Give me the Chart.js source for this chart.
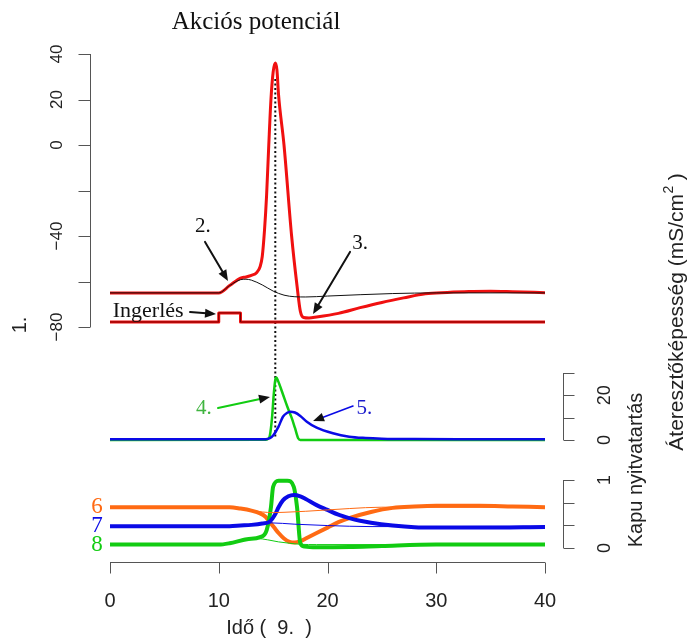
<!DOCTYPE html>
<html><head><meta charset="utf-8">
<script src="https://cdn.jsdelivr.net/npm/chart.js@4"></script>
<style>html,body{margin:0;padding:0;background:#fff;}canvas{display:block}</style>
</head><body>
<canvas id="c" width="691" height="638"></canvas>
<script>
// ---- data (time in ms) ----
const vmTime   = [0, 10, 11, 12, 12.5, 13, 13.5, 13.8, 14.0, 14.2, 14.4, 14.6, 14.8, 15.0, 15.2, 15.35, 15.5, 16.0, 16.7, 17.2, 17.5, 17.8, 18.3, 19, 21, 23, 25, 27, 29, 31, 33, 35, 37, 40];
const vmValues = [-65, -65, -61.8, -58.5, -58, -57.3, -56, -53.5, -49, -38, -22, 0, 20, 32, 36, 33, 22, 0, -40, -62, -73, -75.8, -76, -75.6, -74, -71.5, -69.2, -67.2, -65.4, -64.8, -64.4, -64.3, -64.5, -64.9];
const vmPassiveTime   = [0, 10, 11, 12, 12.5, 13, 14, 15, 16, 17, 18, 20, 23, 26, 30, 40];
const vmPassiveValues = [-65, -65, -61.8, -59.2, -59, -59.4, -61.5, -64.2, -66, -66.7, -66.8, -66.4, -65.8, -65.3, -65, -65];
const stimTime   = [0, 10, 10, 12, 12, 40];
const stimValues = [-77.8, -77.8, -73.8, -73.8, -77.8, -77.8];

const gNaTime   = [0, 14.3, 14.5, 14.7, 14.9, 15.05, 15.2, 15.3, 15.45, 15.9, 16.3, 16.7, 17.0, 17.3, 17.5, 40];
const gNaValues = [0, 0.1, 0.4, 2, 10, 20, 27, 28, 26.5, 20.5, 15, 10, 5.5, 0.8, 0, 0];
const gKTime   = [0, 14.3, 14.7, 15.0, 15.5, 15.9, 16.3, 16.6, 17.0, 17.5, 18.1, 19, 20.5, 22, 23.5, 25, 28, 32, 40];
const gKValues = [0.3, 0.35, 0.8, 2, 6, 10.4, 12.2, 12.7, 12.3, 10.8, 8.2, 5.5, 3.0, 1.5, 0.9, 0.6, 0.4, 0.35, 0.35];

const hTime   = [0, 11, 12, 13, 13.8, 14.3, 14.7, 15.1, 15.5, 16.0, 16.5, 17.0, 17.5, 18, 19, 20, 21, 22, 24, 26, 28, 30, 34, 37, 40];
const hValues = [0.6, 0.6, 0.58, 0.55, 0.51, 0.46, 0.38, 0.3, 0.22, 0.14, 0.09, 0.08, 0.1, 0.14, 0.22, 0.3, 0.38, 0.44, 0.53, 0.59, 0.61, 0.62, 0.62, 0.61, 0.6];
const nTime   = [0, 11, 12, 13, 14, 14.7, 15.2, 15.5, 15.9, 16.4, 16.9, 17.5, 18, 19, 20, 21, 22, 23, 24, 26, 28, 30, 34, 40];
const nValues = [0.32, 0.32, 0.33, 0.34, 0.36, 0.39, 0.5, 0.6, 0.7, 0.76, 0.78, 0.76, 0.72, 0.63, 0.56, 0.49, 0.44, 0.4, 0.37, 0.33, 0.305, 0.3, 0.3, 0.31];
const mTime   = [0, 10, 11, 12.6, 13.8, 14.4, 14.8, 15.0, 15.5, 16.3, 16.9, 17.2, 17.5, 17.9, 19, 22, 25, 30, 40];
const mValues = [0.05, 0.05, 0.07, 0.13, 0.16, 0.26, 0.6, 0.9, 0.99, 0.99, 0.9, 0.6, 0.07, 0.02, 0.01, 0.015, 0.03, 0.05, 0.05];
const hPassiveTime   = [10, 11, 12, 13, 14, 15, 16, 18, 20, 22, 25, 40];
const hPassiveValues = [0.6, 0.6, 0.58, 0.55, 0.53, 0.52, 0.525, 0.54, 0.56, 0.58, 0.6, 0.6];
const nPassiveTime   = [10, 12, 13, 14, 14.7, 17, 20, 24, 30, 40];
const nPassiveValues = [0.32, 0.33, 0.34, 0.36, 0.37, 0.35, 0.33, 0.315, 0.315, 0.32];
const mPassiveTime   = [10, 11, 12.6, 13.5, 14.5, 15.5, 16.5, 17.5, 19, 40];
const mPassiveValues = [0.05, 0.07, 0.13, 0.14, 0.12, 0.09, 0.07, 0.055, 0.05, 0.05];

const xTicks = [0, 10, 20, 30, 40];
const vTicks = [40, 20, 0, -20, -40, -60, -80];
const vTickLabels = ["40", "20", "0", "", "\u221240", "", "\u221280"];
const gTicks = [0, 10, 20, 30];
const gTickLabels = ["0", "", "20", ""];
const pTicks = [0, 1/3, 2/3, 1];
const pTickLabels = ["0", "", "", "1"];
const spikeTime = 15.2;

// ---- layout ----
const PLOT = {left: 110, right: 545, top: 40, bottom: 562};
function rangeFor(v1, p1, v2, p2) {
  const k = (p1 - p2) / (v2 - v1);
  return {min: v1 - (PLOT.bottom - p1) / k, max: v2 + (p2 - PLOT.top) / k};
}
const rV = rangeFor(-80, 327, 40, 54);
const rG = rangeFor(0, 440, 30, 373);
const rP = rangeFor(0, 548, 1, 480);

const RED = '#f01010', ORANGE = '#ff6a13', BLUE = '#0a0ae6', GREEN = '#12cc12';
const pts = (ts, vs) => ts.map((t, i) => ({x: t, y: vs[i]}));
function ds(data, axis, color, width, order, straight) {
  return {data, yAxisID: axis, borderColor: color, borderWidth: width, pointRadius: 0,
    fill: false, order, tension: 0,
    cubicInterpolationMode: straight ? 'default' : 'monotone', borderCapStyle: 'butt', borderJoinStyle: 'round'};
}

const SANS = '"Liberation Sans", Arial, sans-serif';
const SERIF = '"Liberation Serif", "Times New Roman", serif';

function arrow(ctx, x1, y1, x2, y2, lineColor, headColor, lw) {
  ctx.save();
  ctx.strokeStyle = lineColor; ctx.lineWidth = lw; ctx.lineCap = 'round';
  const a = Math.atan2(y2 - y1, x2 - x1);
  const L = 11, W = 4.5;
  ctx.beginPath(); ctx.moveTo(x1, y1); ctx.lineTo(x2 - Math.cos(a) * L * 0.6, y2 - Math.sin(a) * L * 0.6); ctx.stroke();
  ctx.fillStyle = headColor;
  ctx.beginPath();
  ctx.moveTo(x2, y2);
  ctx.lineTo(x2 - L * Math.cos(a) + W * Math.sin(a), y2 - L * Math.sin(a) - W * Math.cos(a));
  ctx.lineTo(x2 - L * Math.cos(a) - W * Math.sin(a), y2 - L * Math.sin(a) + W * Math.cos(a));
  ctx.closePath(); ctx.fill();
  ctx.restore();
}
function rotText(ctx, text, x, y) {
  ctx.save(); ctx.translate(x, y); ctx.rotate(-Math.PI / 2);
  ctx.textAlign = 'center'; ctx.textBaseline = 'middle';
  ctx.fillText(text, 0, 0); ctx.restore();
}

// annotations in data coordinates
const notes = {
  two:   {label: '2.', t: 8.55, v: -36, from: [8.74, -42.6], to: [10.85, -59.8]},
  three: {label: '3.', t: 23.0, v: -43.5, from: [22.07, -47], to: [18.67, -74.3]},
  stim:  {label: 'Ingerlés', t: 0.25, v: -73, from: [7.36, -73.4], to: [9.75, -74.3]},
  four:  {label: '4.', t: 8.64, v: 13.9, from: [9.93, 14.3], to: [14.71, 19.3]},
  five:  {label: '5.', t: 23.4, v: 14.3, from: [22.34, 15.2], to: [18.67, 8.5]}
};

const axesPlugin = {
  id: 'axesPlugin',
  beforeDatasetsDraw(chart) {
    const {ctx, scales} = chart;
    const x = scales.x.getPixelForValue(spikeTime);
    ctx.save();
    ctx.strokeStyle = '#111'; ctx.lineWidth = 2; ctx.setLineDash([2, 2.5]);
    ctx.beginPath();
    ctx.moveTo(x, scales.yV.getPixelForValue(29));
    ctx.lineTo(x, scales.yG.getPixelForValue(1));
    ctx.stroke();
    ctx.restore();
  },
  afterDatasetsDraw(chart) {
    const {ctx, scales} = chart;
    const X = scales.x, V = scales.yV, G = scales.yG, P = scales.yP;
    ctx.save();
    ctx.strokeStyle = '#555'; ctx.lineWidth = 1; ctx.fillStyle = '#222';
    // x axis
    const ax = 562.5;
    ctx.beginPath(); ctx.moveTo(X.getPixelForValue(0), ax); ctx.lineTo(X.getPixelForValue(40), ax);
    xTicks.forEach(t => { const px = Math.round(X.getPixelForValue(t)) + 0.5; ctx.moveTo(px, ax); ctx.lineTo(px, ax + 11); });
    ctx.stroke();
    ctx.font = '20px ' + SANS; ctx.textAlign = 'center'; ctx.textBaseline = 'middle';
    xTicks.forEach(t => ctx.fillText(String(t), X.getPixelForValue(t), 601));
    ctx.fillText('Idő (  9.  )', 269, 628);
    // left axis
    const lx = 90.5;
    ctx.beginPath(); ctx.moveTo(lx, V.getPixelForValue(-80)); ctx.lineTo(lx, V.getPixelForValue(40));
    vTicks.forEach(v => { const py = Math.round(V.getPixelForValue(v)) + 0.5; ctx.moveTo(lx, py); ctx.lineTo(lx - 12, py); });
    ctx.stroke();
    ctx.font = '17px ' + SANS;
    vTicks.forEach((v, i) => { if (vTickLabels[i]) rotText(ctx, vTickLabels[i], 57, V.getPixelForValue(v)); });
    ctx.font = '20px ' + SANS;
    rotText(ctx, '1.', 20, 325);
    // right axes
    const rx = 563.5;
    ctx.beginPath(); ctx.moveTo(rx, G.getPixelForValue(0)); ctx.lineTo(rx, G.getPixelForValue(30));
    gTicks.forEach(v => { const py = Math.round(G.getPixelForValue(v)) + 0.5; ctx.moveTo(rx, py); ctx.lineTo(rx + 11, py); });
    ctx.moveTo(rx, P.getPixelForValue(0)); ctx.lineTo(rx, P.getPixelForValue(1));
    pTicks.forEach(v => { const py = Math.round(P.getPixelForValue(v)) + 0.5; ctx.moveTo(rx, py); ctx.lineTo(rx + 11, py); });
    ctx.stroke();
    ctx.font = '18px ' + SANS;
    gTicks.forEach((v, i) => { if (gTickLabels[i]) rotText(ctx, gTickLabels[i], 605, G.getPixelForValue(v)); });
    pTicks.forEach((v, i) => { if (pTickLabels[i]) rotText(ctx, pTickLabels[i], 605, P.getPixelForValue(v)); });
    ctx.font = '20px ' + SANS;
    rotText(ctx, 'Kapu nyitvatartás', 636, 470);
    // conductance label with superscript
    ctx.save(); ctx.translate(677, 312); ctx.rotate(-Math.PI / 2);
    ctx.textBaseline = 'middle'; ctx.textAlign = 'left';
    const p1 = 'Áteresztőképesség (mS/cm', p3 = ' )';
    ctx.font = '21px ' + SANS; const w1 = ctx.measureText(p1).width, w3 = ctx.measureText(p3).width;
    ctx.font = '14px ' + SANS; const w2 = ctx.measureText('2').width;
    let sx = -(w1 + w2 + w3) / 2;
    ctx.font = '21px ' + SANS; ctx.fillText(p1, sx, 0);
    ctx.font = '14px ' + SANS; ctx.fillText('2', sx + w1 + 0.5, -8);
    ctx.font = '21px ' + SANS; ctx.fillText(p3, sx + w1 + w2, 0);
    ctx.restore();
    // title
    ctx.font = '25px ' + SERIF; ctx.textAlign = 'center'; ctx.fillStyle = '#111';
    ctx.fillText('Akciós potenciál', 256, 22);
    // annotations top panel
    ctx.font = '21px ' + SERIF;
    [notes.two, notes.three].forEach(n => ctx.fillText(n.label, X.getPixelForValue(n.t), V.getPixelForValue(n.v)));
    ctx.textAlign = 'left';
    ctx.font = '22px ' + SERIF;
    ctx.fillText(notes.stim.label, X.getPixelForValue(notes.stim.t), V.getPixelForValue(notes.stim.v));
    [notes.two, notes.three, notes.stim].forEach(n => arrow(ctx,
      X.getPixelForValue(n.from[0]), V.getPixelForValue(n.from[1]),
      X.getPixelForValue(n.to[0]), V.getPixelForValue(n.to[1]), '#111', '#111', 2));
    // middle panel
    ctx.textAlign = 'center'; ctx.font = '21px ' + SERIF;
    ctx.fillStyle = '#3fb43f';
    ctx.fillText(notes.four.label, X.getPixelForValue(notes.four.t), G.getPixelForValue(notes.four.v));
    ctx.fillStyle = '#1a1acc';
    ctx.fillText(notes.five.label, X.getPixelForValue(notes.five.t), G.getPixelForValue(notes.five.v));
    arrow(ctx, X.getPixelForValue(notes.four.from[0]), G.getPixelForValue(notes.four.from[1]),
      X.getPixelForValue(notes.four.to[0]), G.getPixelForValue(notes.four.to[1]), GREEN, '#111', 2);
    arrow(ctx, X.getPixelForValue(notes.five.from[0]), G.getPixelForValue(notes.five.from[1]),
      X.getPixelForValue(notes.five.to[0]), G.getPixelForValue(notes.five.to[1]), BLUE, '#111', 1.6);
    // gate labels
    ctx.font = '23px ' + SERIF; ctx.textAlign = 'center';
    [['6', ORANGE, hValues[0]], ['7', BLUE, nValues[0]], ['8', GREEN, mValues[0]]].forEach(([l, c, v]) => {
      ctx.fillStyle = c; ctx.fillText(l, 97, P.getPixelForValue(v));
    });
    ctx.restore();
  }
};

new Chart(document.getElementById('c'), {
  type: 'line',
  data: {
    datasets: [
      ds(pts(vmPassiveTime, vmPassiveValues), 'yV', '#111', 1, 1),
      ds(pts(vmTime, vmValues), 'yV', RED, 3, 2),
      ds(pts(stimTime, stimValues), 'yV', '#700', 1, 1, true),
      ds(pts(stimTime, stimValues), 'yV', RED, 3, 3, true),
      ds(pts(gKTime, gKValues), 'yG', BLUE, 2.5, 4),
      ds(pts(gNaTime, gNaValues), 'yG', GREEN, 2.5, 5),
      ds(pts(hPassiveTime, hPassiveValues), 'yP', ORANGE, 1, 6),
      ds(pts(nPassiveTime, nPassiveValues), 'yP', BLUE, 1, 6),
      ds(pts(mPassiveTime, mPassiveValues), 'yP', GREEN, 1, 6),
      ds(pts(nTime, nValues), 'yP', BLUE, 4, 7),
      ds(pts(mTime, mValues), 'yP', GREEN, 4, 8),
      ds(pts(hTime, hValues), 'yP', ORANGE, 4, 9)
    ]
  },
  options: {
    responsive: false, animation: false, devicePixelRatio: 1,
    layout: {padding: {left: PLOT.left, right: 691 - PLOT.right, top: PLOT.top, bottom: 638 - PLOT.bottom}},
    plugins: {legend: {display: false}, tooltip: {enabled: false}, title: {display: false}},
    scales: {
      x: {type: 'linear', min: 0, max: 40, display: false},
      yV: {type: 'linear', min: rV.min, max: rV.max, display: false},
      yG: {type: 'linear', min: rG.min, max: rG.max, display: false},
      yP: {type: 'linear', min: rP.min, max: rP.max, display: false}
    }
  },
  plugins: [axesPlugin]
});
</script>
</body></html>
